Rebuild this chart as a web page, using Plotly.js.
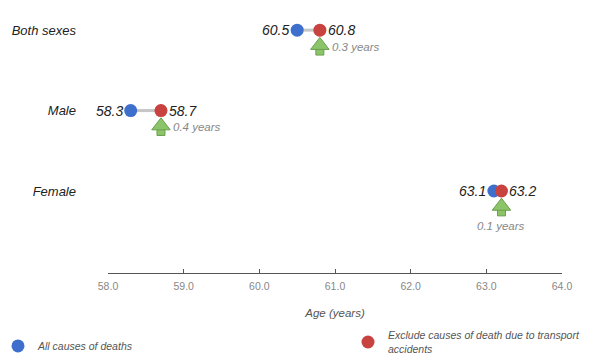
<!DOCTYPE html>
<html>
<head>
<meta charset="utf-8">
<script src="https://cdn.plot.ly/plotly-3.0.1.min.js"></script>
<style>html,body{margin:0;padding:0;background:#fff;}#chart{width:596px;height:356px;}</style>
</head>
<body>
<div id="chart"></div>
<script>
// ---- data ----
const categories = ['Both sexes', 'Male', 'Female'];
const allCauses = [60.5, 58.3, 63.1];
const excludeTransport = [60.8, 58.7, 63.2];
const gains = [0.3, 0.4, 0.1];
const gainLabels = ['0.3 years', '0.4 years', '0.1 years'];
const seriesNames = ['All causes of deaths', 'Exclude causes of death due to transport<br>accidents'];
const xTicks = [58, 59, 60, 61, 62, 63, 64];
const xTickText = ['58.0', '59.0', '60.0', '61.0', '62.0', '63.0', '64.0'];

// ---- styling ----
const BLUE = '#3f6fcd';
const RED = '#c8423f';
const GREEN = '#8cc46a';
const GREEN_DARK = '#6b9f4c';
const FONT = 'Liberation Sans, Arial, sans-serif';

const n = categories.length;
const yPos = categories.map((c, i) => n - 1 - i);

// connector lines
const lx = [], ly = [];
for (let i = 0; i < n; i++) {
  lx.push(allCauses[i], excludeTransport[i], null);
  ly.push(yPos[i], yPos[i], null);
}

const traces = [
  {x: lx, y: ly, mode: 'lines', line: {color: '#c6c6c6', width: 3}, showlegend: false, hoverinfo: 'skip'},
  // arrow shafts
  {x: excludeTransport, y: yPos.map(v => v - 0.26), mode: 'markers',
   marker: {symbol: 'square', size: 8, color: GREEN, line: {color: GREEN_DARK, width: 1}},
   showlegend: false, hoverinfo: 'skip'},
  // arrow heads
  {x: excludeTransport, y: yPos.map(v => v - 0.19), mode: 'markers',
   marker: {symbol: 'triangle-up', size: 16, color: GREEN, line: {color: GREEN_DARK, width: 1}},
   showlegend: false, hoverinfo: 'skip'},
  {x: allCauses, y: yPos, mode: 'markers', name: seriesNames[0], legend: 'legend',
   marker: {size: 13, color: BLUE}},
  {x: excludeTransport, y: yPos, mode: 'markers', name: seriesNames[1], legend: 'legend2',
   marker: {size: 13, color: RED}}
];

const annotations = [];
for (let i = 0; i < n; i++) {
  annotations.push({x: allCauses[i], y: yPos[i], xref: 'x', yref: 'y', text: allCauses[i].toFixed(1),
    showarrow: false, xanchor: 'right', xshift: -6,
    font: {family: FONT, size: 14, color: '#222', style: 'italic'}});
  annotations.push({x: excludeTransport[i], y: yPos[i], xref: 'x', yref: 'y', text: excludeTransport[i].toFixed(1),
    showarrow: false, xanchor: 'left', xshift: 6,
    font: {family: FONT, size: 14, color: '#222', style: 'italic'}});
  const below = gains[i] < 0.2;
  annotations.push({x: excludeTransport[i], y: yPos[i] - (below ? 0.43 : 0.21), xref: 'x', yref: 'y',
    text: gainLabels[i], showarrow: false,
    xanchor: below ? 'center' : 'left', xshift: below ? 0 : 10,
    font: {family: FONT, size: 11.5, color: '#888', style: 'italic'}});
}

const legendFont = {family: FONT, size: 10.5, color: '#555', style: 'italic'};
const layout = {
  width: 596, height: 356,
  margin: {l: 108, r: 34, t: 2, b: 83, autoexpand: false},
  paper_bgcolor: '#fff', plot_bgcolor: '#fff',
  showlegend: true,
  legend: {x: -0.2423, xanchor: 'left', y: -0.269, yanchor: 'middle', itemwidth: 30,
    bgcolor: 'rgba(0,0,0,0)', font: legendFont},
  legend2: {x: 0.5286, xanchor: 'left', y: -0.256, yanchor: 'middle', itemwidth: 30,
    bgcolor: 'rgba(0,0,0,0)', font: legendFont},
  xaxis: {range: [58, 64], tickvals: xTicks, ticktext: xTickText, showgrid: false, zeroline: false,
    showline: true, linecolor: '#555', linewidth: 1, ticks: 'inside', ticklen: 4, tickcolor: '#555',
    ticklabelstandoff: 3,
    tickfont: {family: FONT, size: 10.5, color: '#888'},
    title: {text: 'Age (years)', standoff: 18, font: {family: FONT, size: 11.5, color: '#555', style: 'italic'}}},
  yaxis: {range: [-1.02, 2.35], tickvals: yPos, ticktext: categories, showgrid: false, zeroline: false,
    showline: false, ticks: '', ticklabelstandoff: 31,
    tickfont: {family: FONT, size: 13, color: '#222', style: 'italic'}},
  annotations: annotations
};

Plotly.newPlot('chart', traces, layout, {displayModeBar: false, staticPlot: true});
</script>
</body>
</html>
